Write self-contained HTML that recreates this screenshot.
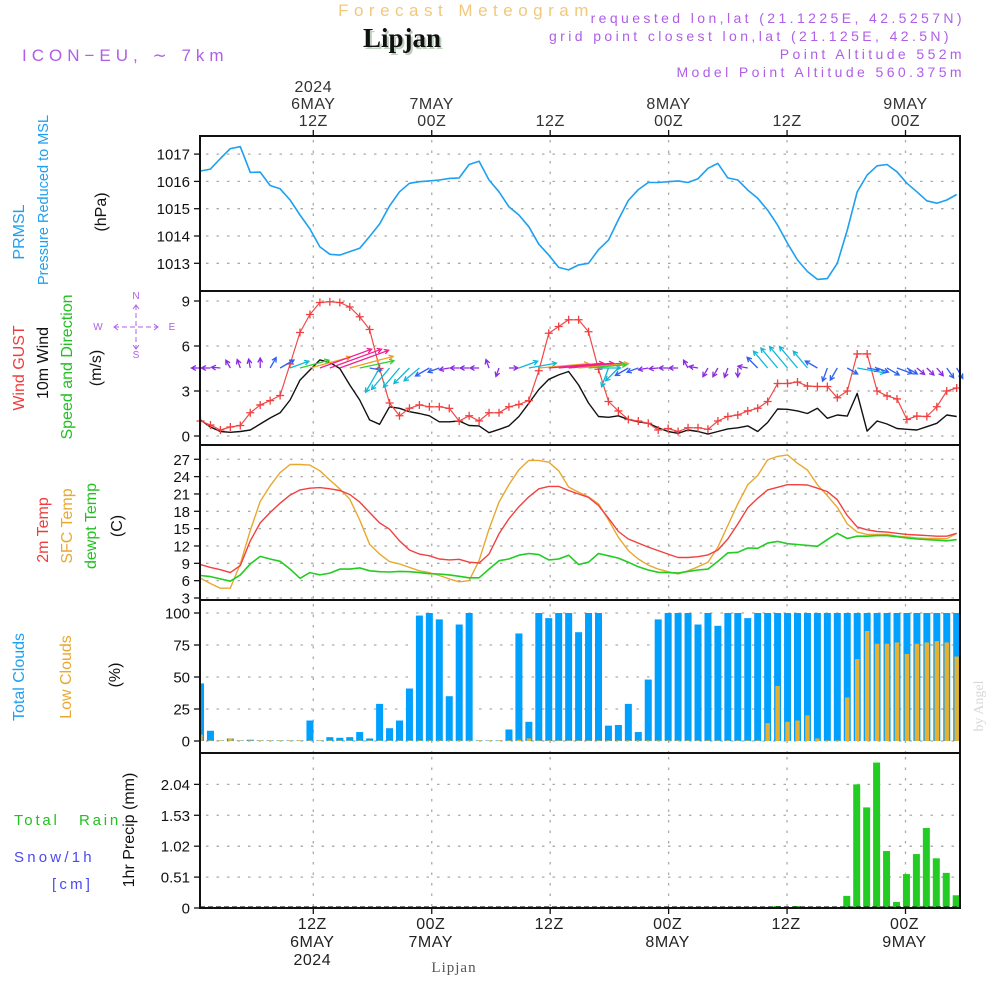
<!DOCTYPE html>
<html><head><meta charset="utf-8"><title>Meteogram Lipjan</title>
<style>
html,body{margin:0;padding:0;background:#fff;}
svg{display:block;font-family:"Liberation Sans",sans-serif;}
</style></head>
<body>
<svg id="chart" width="1000" height="1000" viewBox="0 0 1000 1000" xmlns="http://www.w3.org/2000/svg">
<g>
<text x="466" y="16" text-anchor="middle" font-size="17" fill="#f2c87a" letter-spacing="5.5">Forecast Meteogram</text>
<text x="404" y="49" text-anchor="middle" font-family="Liberation Serif,serif" font-weight="bold" font-size="27" fill="#bcd0bc">Lipjan</text>
<text x="402" y="47" text-anchor="middle" font-family="Liberation Serif,serif" font-weight="bold" font-size="27" fill="#111">Lipjan</text>
<text x="22" y="61" font-size="17" fill="#b05ee8" letter-spacing="5">ICON−EU, ∼ 7km</text>
<text x="965" y="23" text-anchor="end" font-size="14" fill="#b05ee8" letter-spacing="3.4">requested lon,lat (21.1225E, 42.5257N)</text>
<text x="952" y="41" text-anchor="end" font-size="14" fill="#b05ee8" letter-spacing="3.4">grid point closest lon,lat (21.125E, 42.5N)</text>
<text x="965" y="59" text-anchor="end" font-size="14" fill="#b05ee8" letter-spacing="3.4">Point Altitude 552m</text>
<text x="965" y="77" text-anchor="end" font-size="14" fill="#b05ee8" letter-spacing="3.4">Model Point Altitude 560.375m</text>
</g>
<g id="grid"></g>
<g id="marks"></g>
<g id="frames"></g>
<g id="labels">
<text transform="translate(24,232) rotate(-90)" text-anchor="middle" font-size="16" fill="#1ea0f0">PRMSL</text>
<text transform="translate(48,200) rotate(-90)" text-anchor="middle" font-size="14.5" fill="#1ea0f0">Pressure Reduced to MSL</text>
<text transform="translate(106,212) rotate(-90)" text-anchor="middle" font-size="16" fill="#111">(hPa)</text>
<text transform="translate(24,368) rotate(-90)" text-anchor="middle" font-size="16" fill="#f03c3c">Wind GUST</text>
<text transform="translate(48,363) rotate(-90)" text-anchor="middle" font-size="16" fill="#111">10m Wind</text>
<text transform="translate(72,367) rotate(-90)" text-anchor="middle" font-size="16" fill="#22c022">Speed and Direction</text>
<text transform="translate(101,368) rotate(-90)" text-anchor="middle" font-size="16" fill="#111">(m/s)</text>
<g fill="#b05ee8" stroke="#b05ee8" font-size="10">
<text x="98" y="330" text-anchor="middle" stroke="none">W</text>
<text x="172" y="330" text-anchor="middle" stroke="none">E</text>
<text x="136" y="299" text-anchor="middle" stroke="none">N</text>
<text x="136" y="358" text-anchor="middle" stroke="none">S</text>
<line x1="114" y1="327" x2="158" y2="327" stroke-dasharray="5,3" stroke-width="1"/>
<line x1="136" y1="305" x2="136" y2="349" stroke-dasharray="5,3" stroke-width="1"/>
<path d="M118,324L114,327L118,330M154,324L158,327L154,330M133,309L136,305L139,309M133,345L136,349L139,345" fill="none" stroke-width="1"/>
</g>
<text transform="translate(48,530) rotate(-90)" text-anchor="middle" font-size="16" fill="#f03c3c">2m Temp</text>
<text transform="translate(72,526) rotate(-90)" text-anchor="middle" font-size="16" fill="#e8a830">SFC Temp</text>
<text transform="translate(96,526) rotate(-90)" text-anchor="middle" font-size="16" fill="#22c022">dewpt Temp</text>
<text transform="translate(122,526) rotate(-90)" text-anchor="middle" font-size="16" fill="#111">(C)</text>
<text transform="translate(24,677) rotate(-90)" text-anchor="middle" font-size="16" fill="#1ea0f0">Total Clouds</text>
<text transform="translate(71,677) rotate(-90)" text-anchor="middle" font-size="16" fill="#e8a830">Low Clouds</text>
<text transform="translate(120,675) rotate(-90)" text-anchor="middle" font-size="16" fill="#111">(%)</text>
<text x="14" y="825" font-size="15" fill="#22c022" letter-spacing="2.8">Total</text>
<text x="79" y="825" font-size="15" fill="#22c022" letter-spacing="2.8">Rain</text>
<text x="14" y="862" font-size="15" fill="#4a4af0" letter-spacing="3.2">Snow/1h</text>
<text x="52" y="889" font-size="15" fill="#4a4af0" letter-spacing="3.2">[cm]</text>
<text transform="translate(134,830) rotate(-90)" text-anchor="middle" font-size="16" fill="#111">1hr Precip (mm)</text>
<text transform="translate(983,706) rotate(-90)" text-anchor="middle" font-family="Liberation Serif,serif" font-size="14" fill="#d8d8d8">by Angel</text>
<text x="454" y="972" text-anchor="middle" font-family="Liberation Serif,serif" font-size="15" fill="#555" letter-spacing="1">Lipjan</text>
</g>
</svg>
<script>
const pressure=[1016.38,1016.45,1016.84,1017.2,1017.27,1016.33,1016.34,1015.85,1015.73,1015.32,1014.77,1014.26,1013.6,1013.33,1013.3,1013.43,1013.55,1013.98,1014.44,1015.1,1015.62,1015.93,1015.99,1016.02,1016.05,1016.11,1016.13,1016.62,1016.74,1016.05,1015.62,1015.07,1014.77,1014.34,1013.7,1013.3,1012.85,1012.76,1012.94,1013.0,1013.5,1013.85,1014.6,1015.3,1015.7,1015.96,1015.96,1015.99,1016.02,1015.96,1016.1,1016.48,1016.66,1016.13,1016.05,1015.68,1015.38,1014.95,1014.4,1013.73,1013.12,1012.7,1012.41,1012.44,1013.0,1014.22,1015.62,1016.23,1016.57,1016.62,1016.35,1015.93,1015.62,1015.29,1015.2,1015.32,1015.52];
const gust=[1.0,0.73,0.4,0.6,0.7,1.55,2.07,2.36,2.7,4.8,6.9,8.1,8.9,8.95,8.9,8.6,7.95,7.1,4.5,2.2,1.35,1.85,2.07,1.95,1.95,1.84,1.0,1.35,1.0,1.55,1.55,1.95,2.1,2.36,4.35,6.85,7.3,7.75,7.75,6.95,4.45,2.3,1.67,1.1,1.0,0.85,0.4,0.5,0.3,0.55,0.55,0.45,1.0,1.3,1.4,1.67,1.85,2.3,3.5,3.5,3.6,3.33,3.3,3.3,2.55,3.0,5.47,5.47,3.0,2.67,2.47,1.1,1.33,1.3,1.95,3.0,3.2];
const wind=[1.07,0.6,0.3,0.25,0.3,0.4,0.8,1.2,1.55,2.4,3.73,4.4,5.07,4.9,4.5,3.4,2.4,1.07,0.78,1.95,1.85,1.62,1.5,1.35,0.95,0.95,1.0,0.7,0.67,0.22,0.44,0.67,1.3,2.18,3.1,3.78,4.07,4.3,3.4,2.2,1.3,1.25,1.35,1.1,0.95,0.85,0.55,0.3,0.18,0.4,0.3,0.13,0.3,0.47,0.55,0.67,0.3,0.9,1.8,1.78,1.67,1.5,1.85,1.18,1.4,1.33,2.84,0.33,1.0,0.8,0.5,0.45,0.4,0.62,0.85,1.4,1.3];
const windDir=[90,90,95,150,160,170,180,210,240,250,255,255,250,250,250,255,258,280,30,40,40,45,50,60,70,80,90,90,90,160,20,270,250,260,265,265,265,265,265,265,270,20,45,60,70,80,85,90,90,150,100,30,30,20,0,100,135,140,140,140,140,140,120,20,30,300,280,280,290,300,290,300,310,315,320,325,330];
const arrowLen=[9,9,9,9,9,9,10,12,16,20,30,42,55,55,52,45,35,12,28,28,25,22,20,16,12,10,9,9,9,9,9,9,20,28,50,55,55,55,50,38,22,20,18,15,12,10,9,9,9,9,9,10,10,10,9,10,15,22,26,28,28,22,14,14,14,12,28,12,12,14,16,12,10,10,10,12,12];
const temp2m=[8.77,8.3,7.9,7.4,8.6,12.9,16.0,17.8,19.4,20.8,21.7,22.0,22.1,21.9,21.6,20.9,19.6,17.8,16.0,14.9,12.9,11.3,10.6,10.3,9.75,9.6,9.7,9.2,9.05,10.6,14.1,16.7,18.8,20.5,21.9,22.3,22.3,21.6,21.0,20.4,19.0,16.8,14.5,13.2,12.5,11.8,11.2,10.6,10.0,10.0,10.15,10.45,11.3,13.2,15.8,18.6,20.25,21.7,22.15,22.6,22.6,22.55,22.0,21.4,20.0,17.25,15.3,14.8,14.5,14.4,14.2,14.0,13.9,13.8,13.7,13.7,14.2];
const tempSfc=[6.4,5.5,4.7,4.7,8.9,14.7,19.7,22.4,24.7,26.1,26.1,26.0,25.0,23.4,21.9,20.1,16.5,12.3,10.6,9.3,8.9,8.3,7.7,7.4,6.9,6.3,5.8,6.0,9.5,14.9,19.6,22.6,25.2,26.8,26.8,26.5,25.0,22.2,21.3,20.5,19.3,16.5,13.5,11.2,9.75,8.7,8.0,7.55,7.15,7.7,8.4,9.2,11.8,15.55,19.3,22.6,24.2,26.9,27.5,27.75,26.3,25.15,22.6,20.7,18.7,15.8,14.4,14.0,14.0,14.0,13.7,13.55,13.4,13.3,13.3,13.25,14.2];
const dewpt=[6.9,6.7,6.3,5.9,7.0,8.9,10.2,9.75,9.35,8.0,6.4,7.4,7.0,7.3,8.0,8.0,8.2,7.7,7.55,7.5,7.6,7.55,7.4,7.2,7.15,7.0,6.75,6.5,6.5,8.0,9.45,9.75,10.4,10.7,10.5,9.6,9.75,10.4,8.8,9.2,10.7,10.3,9.9,9.2,8.4,7.85,7.45,7.4,7.3,7.6,7.85,8.0,9.35,10.8,10.9,11.65,11.6,12.5,12.8,12.4,12.25,12.1,11.95,13.1,14.2,13.3,13.7,13.7,13.8,13.8,13.6,13.4,13.2,13.1,13.0,12.9,13.1];
const totalClouds=[45,8,0.5,2,0.5,1,0.5,0.5,0.5,0.5,0.5,16,0.5,3,2.5,3,7,2,29,10,16,41,98,100,95,35,91,100,0.5,0.5,0.5,9,84,15,100,96,100,100,85,100,100,12,12.5,29,7,48,95,100,100,100,91,100,90,100,100,96,100,100,100,100,100,100,100,100,100,100,100,100,100,100,100,100,100,100,100,100,100];
const lowClouds=[5,0.5,0.5,2,0.5,0.5,0.5,0.5,0.5,0.5,0.5,0.5,0.5,0.5,0.5,0.5,0.5,0.5,0.5,0.5,0.5,0.5,0.5,0.5,0.5,0.5,0.5,0.5,0.5,0.5,0.5,0.5,1,2,0.5,0.5,0.5,0.5,0.5,0.5,0.5,0.5,0.5,0.5,0.5,0.5,0.5,0.5,0.5,0.5,0.5,0.5,0.5,0.5,0.5,0.5,0.5,14,43,15,16,20,2,0.5,0.5,34,64,86,76,76,77,68,76,77,78,77,66];
const precip=[0,0,0,0,0,0,0,0,0,0,0,0,0,0,0,0,0,0,0,0,0,0,0,0,0,0,0,0,0,0,0,0,0,0,0,0,0,0,0,0,0,0,0,0,0,0,0,0,0,0,0,0,0,0,0,0,0,0,0.033,0,0.033,0,0,0,0,0.2,2.04,1.66,2.40,0.94,0.1,0.56,0.89,1.32,0.82,0.58,0.21];
const pressTicks=[1013,1014,1015,1016,1017];
const windTicks=[0,3,6,9];
const tempTicks=[3,6,9,12,15,18,21,24,27];
const cloudTicks=[0,25,50,75,100];
const precipTicks=[0,0.51,1.02,1.53,2.04];
const timeHours=[12,24,36,48,60,72];
const topLabels=[["2024","6MAY","12Z"],["","7MAY","00Z"],["","","12Z"],["","8MAY","00Z"],["","","12Z"],["","9MAY","00Z"]];
const bottomLabels=[["12Z","6MAY","2024"],["00Z","7MAY",""],["12Z","",""],["00Z","8MAY",""],["12Z","",""],["00Z","9MAY",""]];

const NS="http://www.w3.org/2000/svg";
const L=200,R=960;
const P={press:[136,291],wind:[291,445],temp:[445,600],cloud:[600,753],precip:[753,908]};
function xData(t){return 200.5+9.95*t;}
function xTime(h){return 313.3+9.87*(h-12);}
function yPress(v){return 263.3-(v-1013)*27.3;}
function yWind(v){return 436-v*15;}
function yTemp(v){return 598-(v-3)*5.78;}
function yCloud(v){return 741-v*1.28;}
function yPrecip(v){return 908-v*60.6;}
function el(tag,attrs,parent){const e=document.createElementNS(NS,tag);for(const k in attrs)e.setAttribute(k,attrs[k]);parent.appendChild(e);return e;}
const grid=document.getElementById('grid'),marks=document.getElementById('marks'),frames=document.getElementById('frames'),labels=document.getElementById('labels');

function hgrid(ticks,yf,fmt,panel){
  ticks.forEach(v=>{const y=yf(v);
    const g=el('line',{x1:L+6,x2:R,y1:y,y2:y,stroke:'#aaa','stroke-width':1.3,'stroke-dasharray':'2.5,8'},grid);
    
    
    const tk=el('line',{x1:194,x2:200,y1:y,y2:y,stroke:'#111','stroke-width':1.3},frames);
    
    
    const t=el('text',{x:190,y:y+5.5,'text-anchor':'end','font-size':15,fill:'#111'},labels);
    t.textContent=fmt(v);
    
    
  });
}
hgrid(pressTicks,yPress,v=>String(v),'pressure');
hgrid(windTicks,yWind,v=>String(v),'wind');
hgrid(tempTicks,yTemp,v=>String(v),'temp');
hgrid(cloudTicks,yCloud,v=>String(v),'cloud');
hgrid(precipTicks,yPrecip,v=>v===0?'0':v.toFixed(2),'precip');

timeHours.forEach((h,i)=>{const x=xTime(h);
  Object.keys(P).forEach(k=>{
    const g=el('line',{x1:x,x2:x,y1:P[k][0]+4,y2:P[k][1],stroke:'#aaa','stroke-width':1.3,'stroke-dasharray':'2.5,8'},grid);
    
    
  });
  const tk=el('line',{x1:x,x2:x,y1:130,y2:136,stroke:'#111','stroke-width':1.3},frames);
  
  
  const tb=el('line',{x1:x,x2:x,y1:908,y2:914,stroke:'#111','stroke-width':1.3},frames);
  
  
  topLabels[i].forEach((s,j)=>{if(!s)return;
    const t=el('text',{x:x,y:92+j*17,'text-anchor':'middle','font-size':16,fill:'#333','letter-spacing':0.5},labels);
    t.textContent=s;
    
    
  });
  bottomLabels[i].forEach((s,j)=>{if(!s)return;
    const t=el('text',{x:x-1,y:929+j*18,'text-anchor':'middle','font-size':16,fill:'#222','letter-spacing':0.5},labels);
    t.textContent=s;
    
    
  });
});

function line(arr,yf,color,name,w){
  const pts=arr.map((v,i)=>xData(i).toFixed(1)+','+yf(v).toFixed(1)).join(' ');
  const p=el('polyline',{points:pts,fill:'none',stroke:color,'stroke-width':w||1.4,'stroke-linejoin':'round'},marks);
  
  
}
line(pressure,yPress,'#1ea0f0','pressure-line',1.6);

totalClouds.forEach((v,i)=>{const x=xData(i);
  const x0=Math.max(L,x-3.5),x1=Math.min(R,x+3.5);
  const b=el('rect',{x:x0,y:yCloud(v),width:Math.max(0,x1-x0),height:741-yCloud(v),fill:'#00a0ff'},marks);
  
  
});
lowClouds.forEach((v,i)=>{const x=xData(i);
  const x0=Math.max(L,x-2.2),x1=Math.min(R,x+2.2);
  const b=el('rect',{x:x0,y:yCloud(v),width:Math.max(0,x1-x0),height:741-yCloud(v),fill:'#e8b030'},marks);
  
  
});
precip.forEach((v,i)=>{if(v<=0)return;const x=xData(i)-0.5;
  const x0=Math.max(L,x-3.5),x1=Math.min(R,x+3.5);
  const b=el('rect',{x:x0,y:yPrecip(v),width:Math.max(0,x1-x0),height:908-yPrecip(v),fill:'#22cc22'},marks);
  
  
});
const base=el('line',{x1:L,x2:R,y1:907,y2:907,stroke:'#222','stroke-width':1.2,'stroke-dasharray':'5,3'},marks);



line(tempSfc,yTemp,'#e8a830','sfc-temp-line',1.4);
line(temp2m,yTemp,'#f04040','temp-2m-line',1.4);
line(dewpt,yTemp,'#22cc22','dewpt-line',1.6);

line(wind,yWind,'#111','wind-speed-line',1.4);
line(gust,yWind,'#f04848','gust-line',1.2);
gust.forEach((v,i)=>{const x=xData(i),y=yWind(v);
  const m=el('path',{d:`M${x-4},${y}H${x+4}M${x},${y-4}V${y+4}`,stroke:'#f04040','stroke-width':1.3},marks);
  
  
});
function arrowColor(len){if(len<=10)return '#8a2be2';if(len<=16)return '#3060f0';if(len<=28)return '#10b8d8';if(len<=40)return '#30d030';if(len<=50)return '#f0a020';return '#f02090';}
windDir.forEach((d,i)=>{
  const len=arrowLen[i];const to=(d+180)*Math.PI/180;
  const x0=xData(i),y0=368;
  const x1=x0+len*Math.sin(to),y1=y0-len*Math.cos(to);
  const a=Math.atan2(y1-y0,x1-x0),h=5;
  const c=arrowColor(len);
  const p=el('path',{d:`M${x0},${y0}L${x1},${y1}M${x1-h*Math.cos(a-0.5)},${y1-h*Math.sin(a-0.5)}L${x1},${y1}L${x1-h*Math.cos(a+0.5)},${y1-h*Math.sin(a+0.5)}`,stroke:c,'stroke-width':1.3,fill:'none'},marks);
  
  
});

Object.keys(P).forEach(k=>{
  const r=el('rect',{x:L,y:P[k][0],width:R-L,height:P[k][1]-P[k][0],fill:'none',stroke:'#111','stroke-width':2},frames);
  
  
});
</script>
</body></html>
